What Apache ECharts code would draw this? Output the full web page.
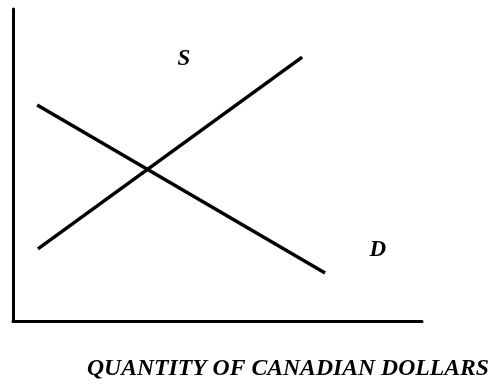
<!DOCTYPE html>
<html><head><meta charset="utf-8">
<script src="https://cdn.jsdelivr.net/npm/echarts@6/dist/echarts.min.js"></script>
<style>html,body{margin:0;padding:0;background:#fff}#c{width:494px;height:386px}</style>
</head><body><div id="c"></div>
<script>
const supplyLine = [[6.1, 23.1], [70.7, 84.6]];
const demandLine = [[5.9, 69.2], [76.3, 15.4]];
const curveLabels = [{name: 'S', value: [41.8, 84.0]}, {name: 'D', value: [89.2, 22.6]}];
const xTitle = 'QUANTITY OF CANADIAN DOLLARS';

const chart = echarts.init(document.getElementById('c'));
const serif = '"Liberation Serif", "Times New Roman", serif';
chart.setOption({
  animation: false,
  title: {
    text: xTitle, right: 0, top: 352,
    textStyle: {fontFamily: serif, fontStyle: 'italic', fontWeight: 'bold', fontSize: 23.7, color: '#000'}
  },
  grid: {left: 13, top: 9, width: 409, height: 312},
  xAxis: {type: 'value', min: 0, max: 100, axisLine: {lineStyle: {color: '#000', width: 3}}, axisTick: {show: false}, axisLabel: {show: false}, splitLine: {show: false}},
  yAxis: {type: 'value', min: 0, max: 100, axisLine: {show: true, lineStyle: {color: '#000', width: 3}}, axisTick: {show: false}, axisLabel: {show: false}, splitLine: {show: false}},
  series: [
    {type: 'line', data: supplyLine, symbol: 'none', lineStyle: {color: '#000', width: 3.5}},
    {type: 'line', data: demandLine, symbol: 'none', lineStyle: {color: '#000', width: 3.5}},
    {type: 'scatter', data: curveLabels, symbolSize: 0, itemStyle: {opacity: 1, color: '#000'},
     label: {show: true, position: 'inside', formatter: '{b}', fontFamily: serif, fontStyle: 'italic', fontWeight: 'bold', fontSize: 23, color: '#000', opacity: 1}}
  ]
});
</script></body></html>
